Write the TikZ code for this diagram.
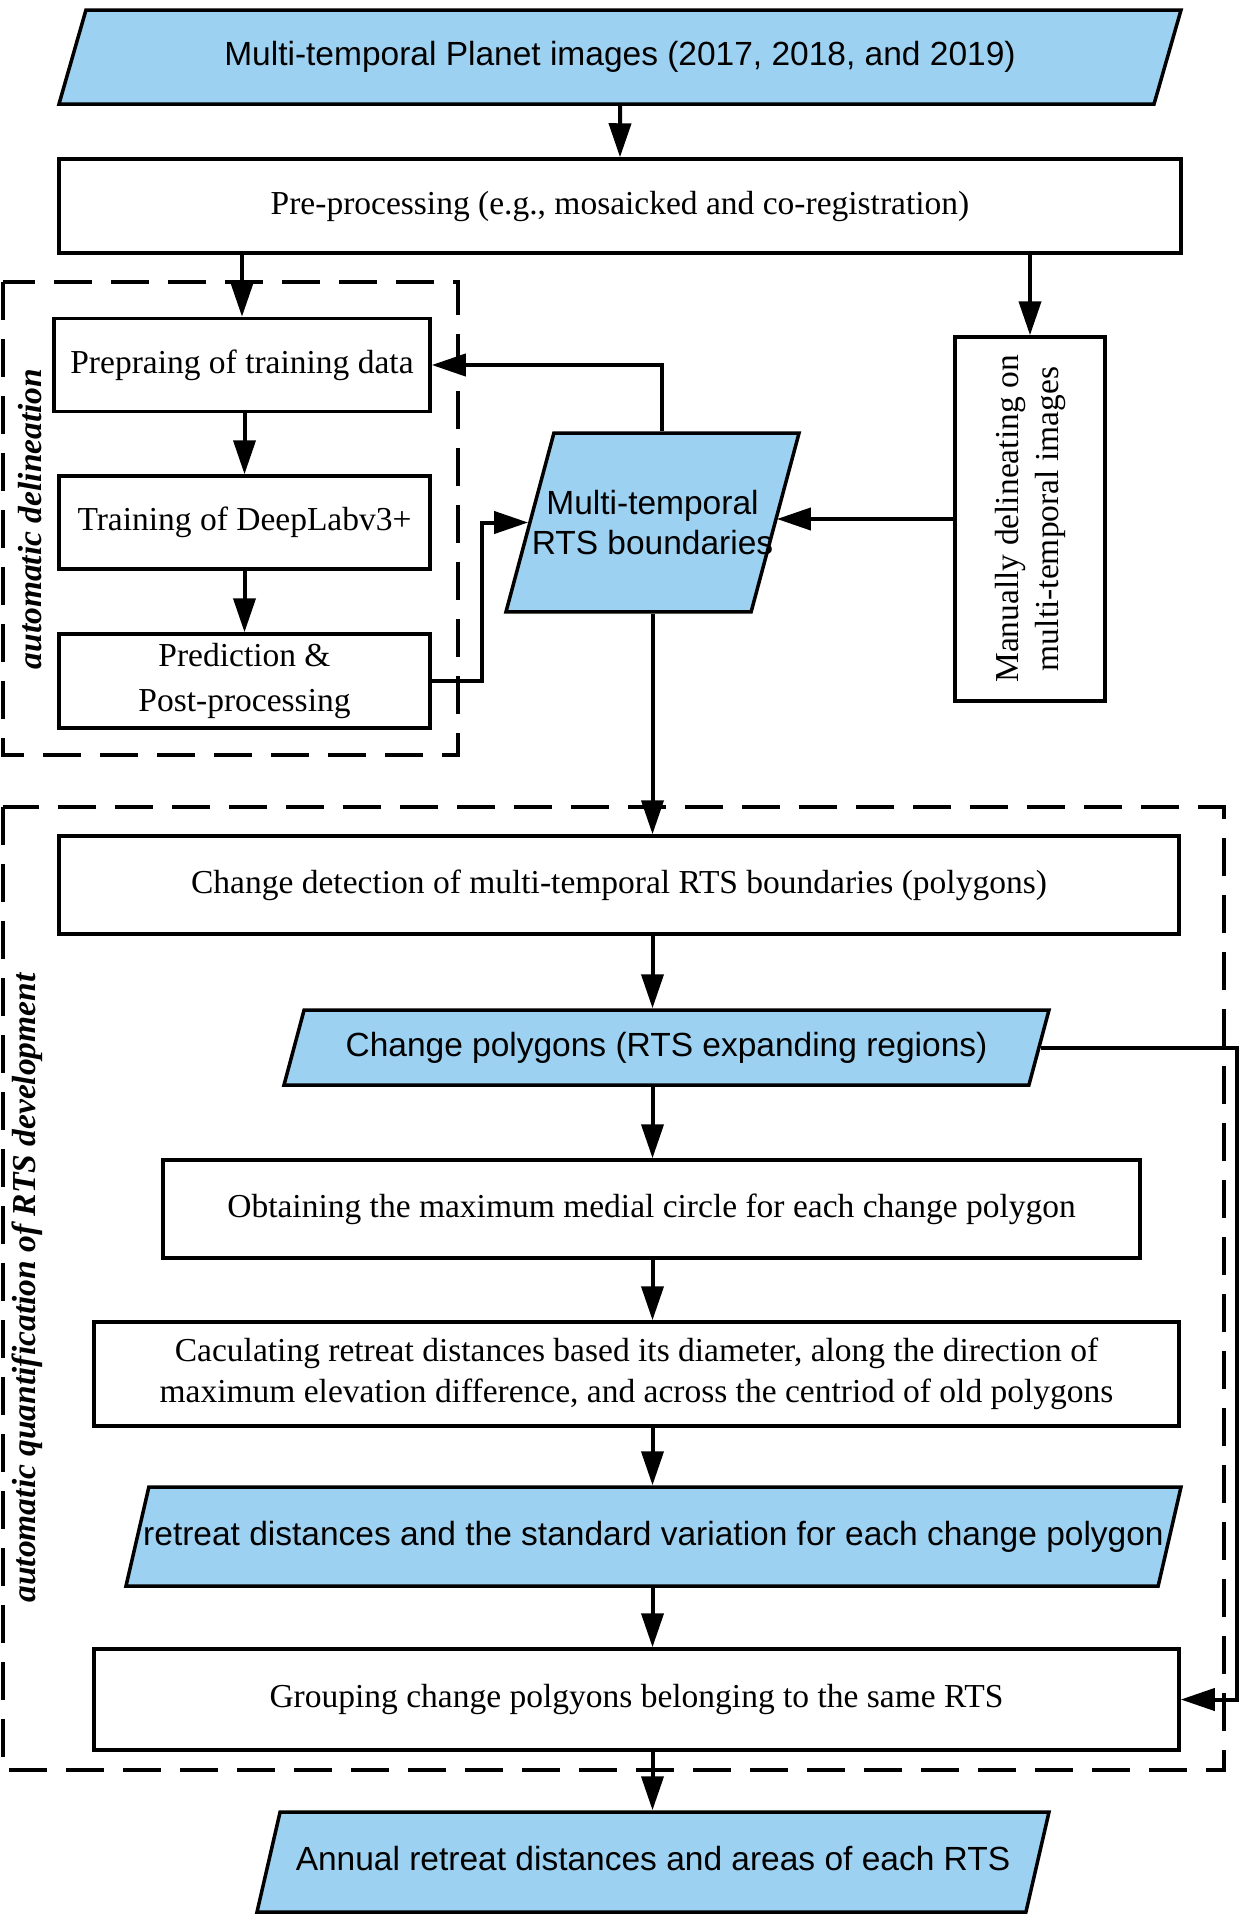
\documentclass[tikz,border=0pt]{standalone}
\usepackage{fontspec}
\setmainfont{Liberation Serif}
\setsansfont{Liberation Sans}
\usepackage{xcolor}
\usetikzlibrary{shapes.geometric, arrows.meta, calc}

\definecolor{dataBlue}{RGB}{157,209,241}

\begin{document}
\begin{tikzpicture}[x=1pt, y=-1pt,
  proc/.style={draw, line width=3.5pt, fill=white, inner sep=0pt, align=center,
    font=\fontsize{33.5}{41}\selectfont},
  data/.style={trapezium, trapezium left angle=75, trapezium right angle=105,
    trapezium stretches body, draw, line width=3.5pt, fill=dataBlue, inner xsep=0pt,
    align=center, font=\sffamily\fontsize{33.5}{40}\selectfont},
  oneline/.style={text height=24pt, text depth=7pt},
  flow/.style={line width=4pt, -{Triangle[length=34pt, width=22pt]}},
  groupbox/.style={line width=3.5pt, dash pattern=on 38pt off 19pt},
  sidelabel/.style={rotate=90, font=\bfseries\itshape\fontsize{33.5}{40}\selectfont}]
\useasboundingbox (0,0) rectangle (1240,1920);

% inputs and pre-processing
\node[data, oneline, inner ysep=31.5pt, minimum width=1122pt, trapezium left angle=74, trapezium right angle=106] (img) at (620,57)
  {Multi-temporal Planet images (2017, 2018, and 2019)};
\node[proc, minimum width=1122pt, minimum height=94pt] (pre) at (620,206)
  {Pre-processing (e.g., mosaicked and co-registration)};

% automatic delineation
\draw[groupbox] (3,282) rectangle (458,755);
\node[sidelabel] (lab1) at (30,519) {automatic delineation};
\node[proc, minimum width=376pt, minimum height=93pt] (prep) at (242,365) {Prepraing of training data};
\node[proc, minimum width=371pt, minimum height=93pt] (train) at (244.5,522.5) {Training of DeepLabv3+};
\node[proc, minimum width=371pt, minimum height=94pt, font=\fontsize{33.5}{45}\selectfont] (pred) at (244.5,681)
  {Prediction \&\\Post-processing};

% boundaries from both ways
\node[data, inner ysep=57pt, inner xsep=-25pt, minimum width=293pt] (rts) at (652.5,522.5)
  {Multi-temporal\\RTS boundaries};
% rotated box: east is its top, north its left side
\node[proc, rotate=90, minimum width=364pt, minimum height=150pt, font=\fontsize{33.5}{40}\selectfont] (man) at (1030,519)
  {Manually delineating on\\multi-temporal images};

% automatic quantification
\draw[groupbox] (3,807) rectangle (1224,1770);
\node[sidelabel] (lab2) at (27,1288) {automatic quantification of RTS development};
\node[proc, minimum width=1120pt, minimum height=98pt] (chg) at (619,885)
  {Change detection of multi-temporal RTS boundaries (polygons)};
\node[data, oneline, inner ysep=22pt, minimum width=765pt] (poly) at (666.5,1047.5)
  {Change polygons (RTS expanding regions)};
\node[proc, minimum width=977pt, minimum height=98pt] (obt) at (651.5,1209)
  {Obtaining the maximum medial circle for each change polygon};
\node[proc, minimum width=1085pt, minimum height=104pt] (calc) at (636.5,1374)
  {Caculating retreat distances based its diameter, along the direction of\\maximum elevation difference, and across the centriod of old polygons};
\node[data, oneline, inner ysep=34pt, inner xsep=-25pt, minimum width=1055pt, trapezium left angle=77, trapezium right angle=103] (ret) at (653.5,1536.5)
  {retreat distances and the standard variation for each change polygon};
\node[proc, minimum width=1085pt, minimum height=101pt] (grp) at (636.5,1699.5)
  {Grouping change polgyons belonging to the same RTS};
\node[data, oneline, inner ysep=34.5pt, minimum width=792pt, trapezium left angle=77, trapezium right angle=103] (ann) at (653,1862)
  {Annual retreat distances and areas of each RTS};

% connectors
\draw[flow] (img.south) -- (pre.north);
\draw[flow] (pre.south -| prep.north) -- (prep.north);
\draw[flow] (pre.south -| man.east) -- (man.east);
\draw[flow] (prep.south -| train.north) -- (train.north);
\draw[flow] (train.south) -- (pred.north);
\draw[flow] ($(rts.north)+(9,0)$) |- (prep.east);
\draw[flow] (pred.east) -- ++(50,0) |- (rts.west);
\draw[flow] (man.north) -- (man.north -| rts.east);
\draw[flow] (rts.south -| rts.center) -- (chg.north -| rts.center);
\draw[flow] (chg.south -| rts.center) -- (poly.north -| rts.center);
\draw[flow] (poly.south -| rts.center) -- (obt.north -| rts.center);
\draw[flow] (obt.south -| rts.center) -- (calc.north -| rts.center);
\draw[flow] (calc.south -| rts.center) -- (ret.north -| rts.center);
\draw[flow] (ret.south -| rts.center) -- (grp.north -| rts.center);
\draw[flow] (grp.south -| rts.center) -- (ann.north -| rts.center);
\draw[flow] (poly.east) -| ([xshift=56pt]grp.east) -- (grp.east);
\end{tikzpicture}
\end{document}
